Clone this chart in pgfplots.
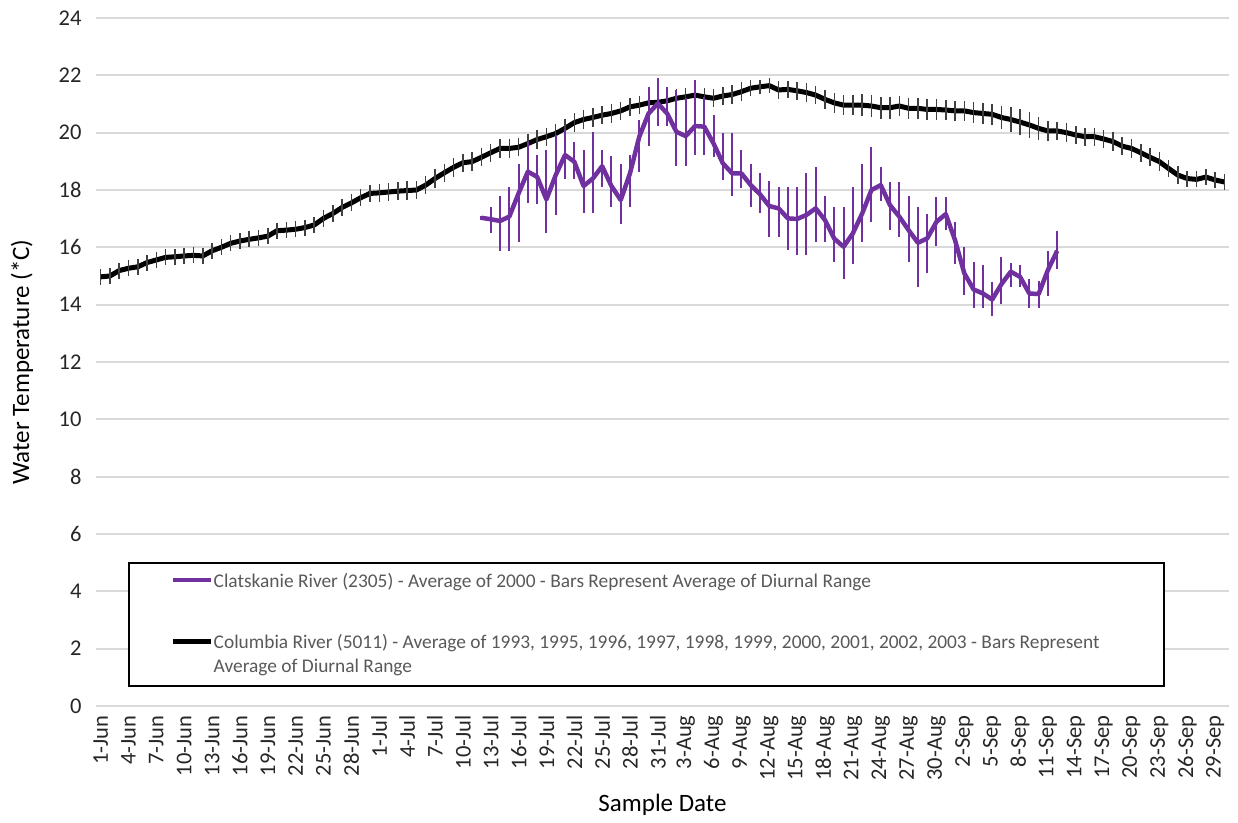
\documentclass[border=0pt]{standalone}
\usepackage{fontspec}
\setmainfont{Carlito}
\usepackage{pgfplots}
\pgfplotsset{compat=1.18}
\usepackage{pgfplotstable}
\definecolor{cpurple}{HTML}{7030A0}
\definecolor{cgrid}{HTML}{D9D9D9}
\definecolor{ctext}{HTML}{595959}
\definecolor{cbar}{HTML}{404040}

\pgfplotstableread{
x y e
0 14.97 0.28
1 15.00 0.28
2 15.19 0.28
3 15.27 0.28
4 15.32 0.28
5 15.47 0.28
6 15.56 0.28
7 15.65 0.28
8 15.67 0.28
9 15.70 0.28
10 15.72 0.28
11 15.70 0.28
12 15.88 0.28
13 16.00 0.28
14 16.14 0.28
15 16.22 0.28
16 16.28 0.28
17 16.33 0.28
18 16.39 0.28
19 16.58 0.28
20 16.60 0.28
21 16.63 0.28
22 16.69 0.28
23 16.78 0.28
24 17.01 0.30
25 17.18 0.30
26 17.39 0.30
27 17.55 0.30
28 17.73 0.30
29 17.88 0.30
30 17.90 0.32
31 17.93 0.32
32 17.96 0.32
33 17.98 0.32
34 18.00 0.32
35 18.17 0.32
36 18.40 0.32
37 18.60 0.32
38 18.79 0.32
39 18.95 0.32
40 18.99 0.32
41 19.14 0.32
42 19.30 0.32
43 19.45 0.32
44 19.45 0.32
45 19.49 0.32
46 19.62 0.32
47 19.76 0.32
48 19.86 0.32
49 19.97 0.32
50 20.15 0.32
51 20.35 0.32
52 20.46 0.32
53 20.53 0.32
54 20.61 0.32
55 20.67 0.32
56 20.76 0.32
57 20.90 0.32
58 20.96 0.32
59 21.04 0.32
60 21.06 0.32
61 21.11 0.32
62 21.20 0.32
63 21.25 0.32
64 21.31 0.32
65 21.25 0.32
66 21.20 0.32
67 21.28 0.32
68 21.33 0.32
69 21.43 0.32
70 21.55 0.28
71 21.60 0.25
72 21.64 0.25
73 21.49 0.30
74 21.51 0.30
75 21.46 0.32
76 21.40 0.32
77 21.31 0.32
78 21.16 0.32
79 21.04 0.34
80 20.96 0.36
81 20.96 0.36
82 20.96 0.38
83 20.93 0.38
84 20.87 0.38
85 20.87 0.38
86 20.93 0.36
87 20.85 0.36
88 20.85 0.36
89 20.81 0.36
90 20.81 0.36
91 20.79 0.36
92 20.76 0.36
93 20.76 0.36
94 20.70 0.36
95 20.67 0.36
96 20.64 0.36
97 20.53 0.40
98 20.46 0.42
99 20.37 0.44
100 20.27 0.44
101 20.15 0.40
102 20.06 0.34
103 20.06 0.32
104 20.00 0.32
105 19.92 0.32
106 19.86 0.32
107 19.86 0.32
108 19.78 0.32
109 19.69 0.32
110 19.53 0.32
111 19.45 0.32
112 19.30 0.32
113 19.14 0.32
114 18.99 0.32
115 18.75 0.30
116 18.52 0.30
117 18.40 0.28
118 18.37 0.28
119 18.45 0.28
120 18.35 0.28
121 18.28 0.28
}\colum

\pgfplotstableread{
x y top bot
41 17.03 17.10 16.95
42 16.98 17.40 16.50
43 16.92 17.79 15.88
44 17.07 18.09 15.88
45 17.88 18.90 16.20
46 18.64 19.69 17.53
47 18.46 19.22 17.51
48 17.67 19.41 16.51
49 18.52 19.92 17.13
50 19.22 20.09 18.40
51 18.99 19.69 18.40
52 18.14 19.41 17.20
53 18.40 20.02 17.20
54 18.83 19.41 18.11
55 18.14 19.18 17.42
56 17.65 18.90 16.80
57 18.58 19.22 17.42
58 19.86 20.44 18.64
59 20.67 21.58 19.53
60 21.02 21.90 20.23
61 20.67 21.58 20.23
62 20.03 21.49 18.83
63 19.88 21.20 18.83
64 20.23 21.82 19.22
65 20.21 21.23 19.22
66 19.62 20.61 19.16
67 18.93 20.00 18.35
68 18.58 20.00 17.79
69 18.58 19.41 18.08
70 18.17 18.90 17.42
71 17.85 18.60 17.20
72 17.44 18.32 16.35
73 17.36 18.09 16.35
74 17.01 18.09 15.90
75 16.99 18.09 15.73
76 17.13 18.60 15.73
77 17.36 18.79 16.20
78 16.95 17.79 16.20
79 16.30 17.39 15.50
80 16.02 17.39 14.91
81 16.49 18.09 15.41
82 17.18 18.90 16.20
83 18.00 19.49 16.89
84 18.17 18.79 17.63
85 17.47 18.29 16.60
86 17.07 18.29 16.35
87 16.60 17.79 15.50
88 16.16 17.42 14.60
89 16.31 17.18 15.11
90 16.89 17.77 16.04
91 17.16 17.77 16.60
92 16.25 16.89 15.41
93 15.09 16.00 14.34
94 14.53 15.50 13.90
95 14.39 15.38 13.90
96 14.18 14.80 13.60
97 14.72 15.67 14.04
98 15.15 15.46 14.63
99 14.97 15.38 14.60
100 14.39 14.88 13.90
101 14.37 14.83 13.90
102 15.21 15.88 14.30
103 15.88 16.58 15.23
}\clats

\begin{document}
\begin{tikzpicture}
\begin{axis}[
  name=ax,
  scale only axis, width=453.2pt, height=275.2pt,
  xmin=-0.5, xmax=121.5, ymin=0, ymax=24,
  ytick={0,2,...,24},
  xtick={0,3,...,120},
  xticklabels={1-Jun,4-Jun,7-Jun,10-Jun,13-Jun,16-Jun,19-Jun,22-Jun,25-Jun,28-Jun,1-Jul,4-Jul,7-Jul,10-Jul,13-Jul,16-Jul,19-Jul,22-Jul,25-Jul,28-Jul,31-Jul,3-Aug,6-Aug,9-Aug,12-Aug,15-Aug,18-Aug,21-Aug,24-Aug,27-Aug,30-Aug,2-Sep,5-Sep,8-Sep,11-Sep,14-Sep,17-Sep,20-Sep,23-Sep,26-Sep,29-Sep},
  /pgf/number format/assume math mode=true,
  tick label style={font=\fontsize{9}{10}\selectfont, text=black!85},
  xticklabel style={rotate=90, anchor=east, inner xsep=3.6pt},
  yticklabel style={anchor=east, inner xsep=5.6pt},
  major tick length=0pt,
  axis line style={draw=none},
  ymajorgrids, grid style={cgrid, line width=0.8pt},
  label style={font=\fontsize{10}{12}\selectfont},
  xlabel={Sample Date}, ylabel={Water Temperature (*C)},
  every axis x label/.style={at={(axis description cs:0.5,-0.1439)}, anchor=center},
  every axis y label/.style={at={(axis description cs:-0.0653,0.5)}, rotate=90, anchor=center},
  legend style={
    at={(0.028,0.209)}, anchor=north west,
    draw=black, line width=0.8pt,
    inner xsep=0pt, inner ysep=3.6pt,
    font=\fontsize{7.75}{9.6}\selectfont, text=ctext,
    nodes={inner sep=0pt, anchor=base west, text height=6pt},
    row sep=0pt, column sep=0pt,
  },
  legend image code/.code={\path (0pt,0.28em); \draw[#1] (16.8pt,0.28em) -- (32pt,0.28em);},
]
\addplot[black, line width=2pt, line join=round, forget plot,
  error bars/.cd, y dir=both, y explicit, error mark=none,
  error bar style={cbar, line width=0.6pt}]
  table[x=x, y=y, y error=e] {\colum};
\addplot[cpurple, line width=1.8pt, line join=round,
  error bars/.cd, y dir=both, y explicit, error mark=none,
  error bar style={cpurple, line width=0.8pt}]
  table[x=x, y=y, y error plus expr=\thisrow{top}-\thisrow{y}, y error minus expr=\thisrow{y}-\thisrow{bot}] {\clats};
\addlegendentry[text depth=18.4pt]{Clatskanie River (2305) - Average of 2000 - Bars Represent Average of Diurnal Range}
\addlegendimage{black, line width=2pt}
\addlegendentry[text depth=3.6pt]{\makebox[380pt][l]{Columbia River (5011) - Average of 1993, 1995, 1996, 1997, 1998, 1999, 2000, 2001, 2002, 2003 - Bars Represent}}
\addlegendimage{empty legend}
\addlegendentry[text depth=2pt]{Average of Diurnal Range}
\end{axis}
\pgfresetboundingbox
\path[use as bounding box] ([shift={(-38.4pt,-46.8pt)}]ax.south west) rectangle ([shift={(3.6pt,7.2pt)}]ax.north east);
\end{tikzpicture}
\end{document}
